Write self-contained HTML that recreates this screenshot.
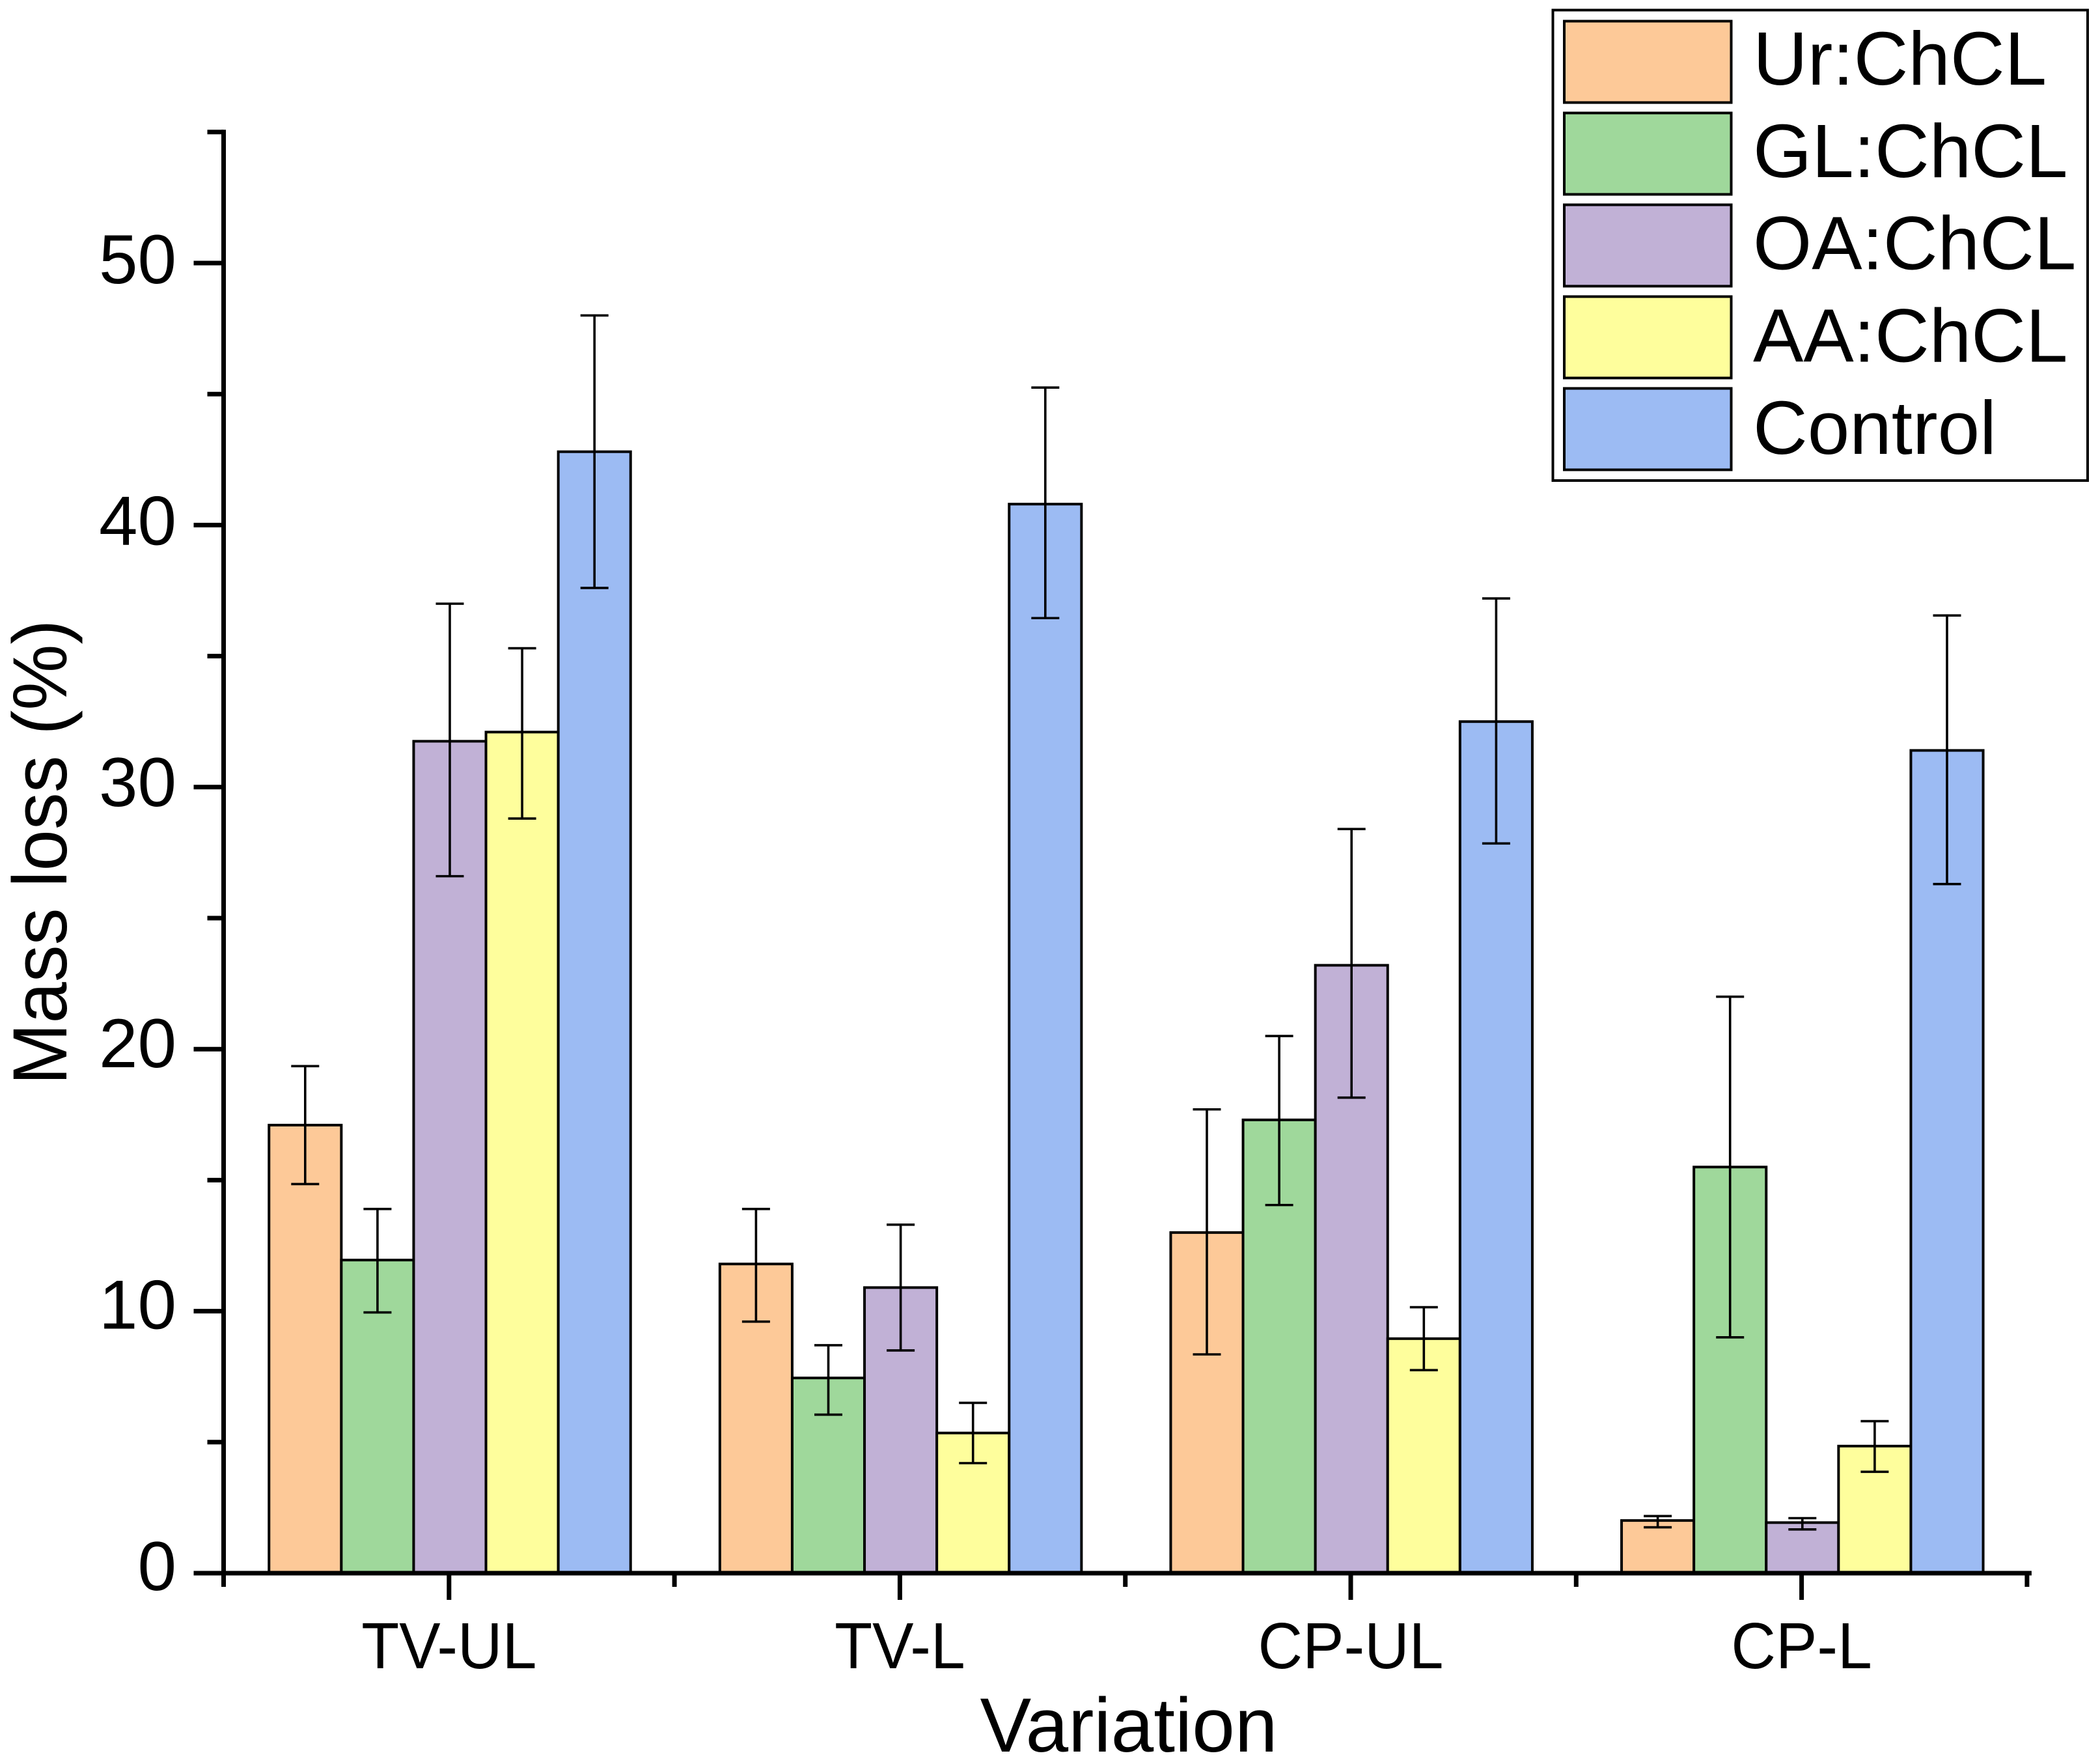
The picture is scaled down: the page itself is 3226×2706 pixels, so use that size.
<!DOCTYPE html>
<html>
<head>
<meta charset="utf-8">
<title>Mass loss by variation</title>
<style>
html,body{margin:0;padding:0;background:#fff;width:3226px;height:2706px;overflow:hidden}
svg{display:block}
text{font-family:"Liberation Sans",sans-serif;fill:#000}
</style>
</head>
<body>
<svg id="chart" xmlns="http://www.w3.org/2000/svg" width="3226" height="2706" viewBox="0 0 3226 2706"></svg>
<script>
const categories = ["TV-UL", "TV-L", "CP-UL", "CP-L"];
const seriesNames = ["Ur:ChCL", "GL:ChCL", "OA:ChCL", "AA:ChCL", "Control"];
const urValues = [17.1, 11.8, 13.0, 2.01];
const glValues = [11.95, 7.45, 17.3, 15.5];
const oaValues = [31.75, 10.9, 23.2, 1.93];
const aaValues = [32.1, 5.35, 8.95, 4.85];
const controlValues = [42.8, 40.8, 32.5, 31.4];
const urUpper = [19.35, 13.9, 17.7, 2.18];
const urLower = [14.85, 9.6, 8.35, 1.75];
const glUpper = [13.9, 8.7, 20.5, 22.0];
const glLower = [9.95, 6.05, 14.05, 9.0];
const oaUpper = [37.0, 13.3, 28.4, 2.1];
const oaLower = [26.6, 8.5, 18.15, 1.67];
const aaUpper = [35.3, 6.5, 10.15, 5.8];
const aaLower = [28.8, 4.2, 7.75, 3.87];
const controlUpper = [48.0, 45.25, 37.2, 36.55];
const controlLower = [37.6, 36.45, 27.85, 26.3];
const yTickLabels = ["0", "10", "20", "30", "40", "50"];
const yMinorTicks = [5, 15, 25, 35, 45, 55];

const allValues = [urValues, glValues, oaValues, aaValues, controlValues];
const allUpper = [urUpper, glUpper, oaUpper, aaUpper, controlUpper];
const allLower = [urLower, glLower, oaLower, aaLower, controlLower];
const seriesColors = ["#FDC998", "#9FD89B", "#C1B1D6", "#FEFE9C", "#9CBBF3"];

const NS = "http://www.w3.org/2000/svg";
const svg = document.getElementById("chart");
const axisLeft = 343.5, axisBottom = 2416, pxPerUnit = 40.24;
const catStart = 343.5, catStep = 692.6, barWidth = 111.1;

function yScale(v) { return axisBottom - v * pxPerUnit; }
function xCenter(i) { return catStart + catStep * (i + 0.5); }
function barLeft(i, s) { return xCenter(i) + 1.2 + (s - 2.5) * barWidth; }

function mk(tag, attrs, parent) {
  const el = document.createElementNS(NS, tag);
  for (const k in attrs) el.setAttribute(k, attrs[k]);
  (parent || svg).appendChild(el);
  return el;
}

/* bars */
const barsGroup = mk("g", {});


allValues.forEach(function (vals, s) {
  vals.forEach(function (v, i) {
    const bar = mk("rect", { x: barLeft(i, s), y: yScale(v), width: barWidth, height: axisBottom - yScale(v), fill: seriesColors[s], stroke: "#000", "stroke-width": 4 }, barsGroup);
    
    
  });
});

/* error bars */
const errGroup = mk("g", { stroke: "#000", "stroke-width": 3.6, fill: "none" });


allValues.forEach(function (vals, s) {
  vals.forEach(function (v, i) {
    const cx = barLeft(i, s) + barWidth / 2;
    const yu = yScale(allUpper[s][i]), yl = yScale(allLower[s][i]);
    const capL = cx - 21.5, capR = cx + 21.5;
    const err = mk("path", { d: "M" + capL + " " + yu + "H" + capR + "M" + cx + " " + yu + "V" + yl + "M" + capL + " " + yl + "H" + capR }, errGroup);
    
    
  });
});

/* y axis */
const yAxis = mk("g", { stroke: "#000", "stroke-width": 7 });


mk("line", { x1: axisLeft, x2: axisLeft, y1: yScale(55) - 3.5, y2: axisBottom }, yAxis);
yTickLabels.forEach(function (label) {
  const v = Number(label);
  const tick = mk("line", { x1: axisLeft - 46, x2: axisLeft, y1: yScale(v), y2: yScale(v) }, yAxis);
  
  
  const t = mk("text", { x: 271, y: yScale(v) + 26 + v * 0.1, "text-anchor": "end", "font-size": 107, stroke: "none" });
  t.textContent = label;
  
  
});
yMinorTicks.forEach(function (v) {
  const tick = mk("line", { x1: axisLeft - 25, x2: axisLeft, y1: yScale(v), y2: yScale(v) }, yAxis);
  
  
});

/* x axis */
const xAxis = mk("g", { stroke: "#000", "stroke-width": 7 });


mk("line", { x1: axisLeft - 46, x2: catStart + catStep * categories.length + 7, y1: axisBottom, y2: axisBottom }, xAxis);
categories.forEach(function (c, i) {
  const tick = mk("line", { x1: xCenter(i), x2: xCenter(i), y1: axisBottom, y2: axisBottom + 41 }, xAxis);
  
  
  const t = mk("text", { x: 0, y: 0, "text-anchor": "middle", "font-size": 100, stroke: "none", transform: "translate(" + xCenter(i) + " 2562) scale(0.95 1)" });
  t.textContent = c;
  
  
});
for (let i = 0; i <= categories.length; i++) {
  const tick = mk("line", { x1: catStart + catStep * i, x2: catStart + catStep * i, y1: axisBottom, y2: axisBottom + 21 }, xAxis);
  
  
}

/* axis titles */
const xTitle = mk("text", { x: 1734, y: 2690, "text-anchor": "middle", "font-size": 118 });
xTitle.textContent = "Variation";


const yTitle = mk("text", { x: 0, y: 0, "text-anchor": "middle", "font-size": 118, transform: "translate(102 1309) rotate(-90) scale(0.965 1)" });
yTitle.textContent = "Mass loss (%)";



/* legend */
const legend = mk("g", {});


mk("rect", { x: 2385.5, y: 15.5, width: 821.5, height: 722.5, fill: "#fff", stroke: "#000", "stroke-width": 4 }, legend);
seriesNames.forEach(function (name, s) {
  const swatch = mk("rect", { x: 2403, y: 32.5 + s * 141, width: 256.5, height: 125, fill: seriesColors[s], stroke: "#000", "stroke-width": 4 }, legend);
  
  
  const t = mk("text", { x: 2693, y: 130 + s * 141.8, "font-size": 116 }, legend);
  t.textContent = name;
  
  
});
</script>
</body>
</html>
